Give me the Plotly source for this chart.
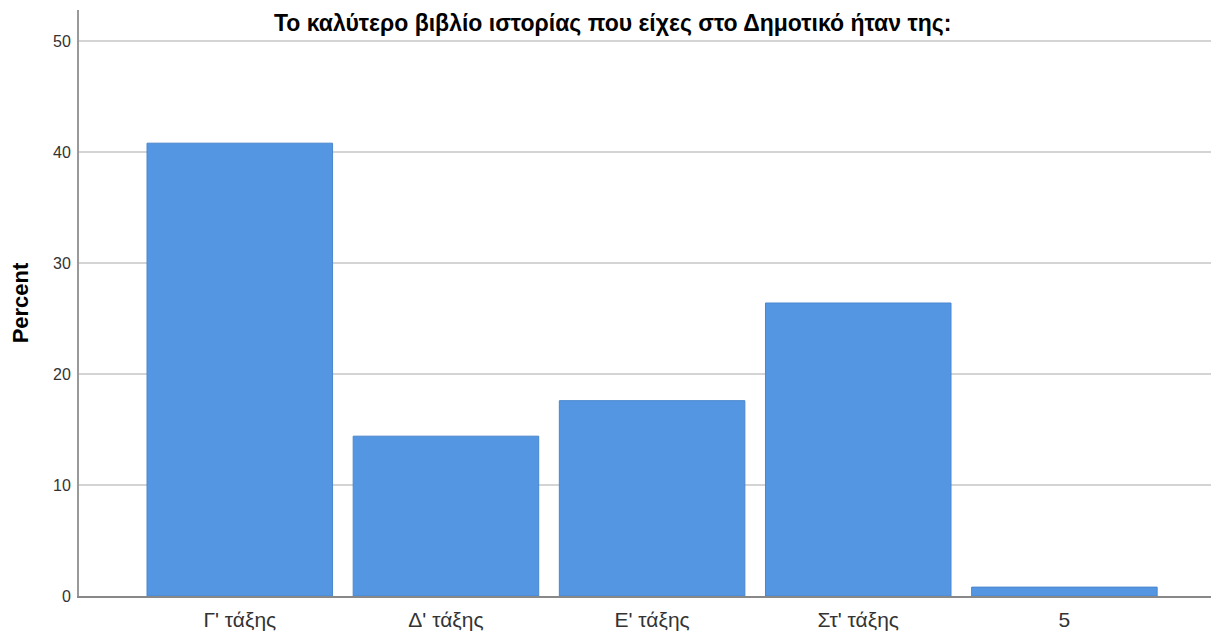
import plotly.graph_objects as go

categories = ["Γ' τάξης", "Δ' τάξης", "Ε' τάξης", "Στ' τάξης", "5"]
percent = [40.8, 14.4, 17.6, 26.4, 0.8]
y_ticks = [0, 10, 20, 30, 40, 50]
title_text = "Το καλύτερο βιβλίο ιστορίας που είχες στο Δημοτικό ήταν της:"

# page body has an 8px margin, so the figure is sized/offset to compensate
W, H = 1211, 626
L, R, T, B = 71, 0, 2, 38
plot_h = H - T - B

fig = go.Figure()
fig.add_trace(go.Bar(
    x=list(range(len(categories))), y=percent,
    marker=dict(color="#5596E3", line=dict(color="#4A86CF", width=1)),
    width=0.9,
))
fig.update_layout(
    width=W, height=H,
    margin=dict(l=L, r=R, t=T, b=B),
    plot_bgcolor="white", paper_bgcolor="white",
    showlegend=False,
    font=dict(family="Liberation Sans, Arial, sans-serif", color="#333333"),
    annotations=[dict(
        text="<b>" + title_text + "</b>", xref="paper", yref="paper",
        x=(604 - L) / (W - L - R), y=1 + 2 / plot_h, xanchor="center", yanchor="top",
        showarrow=False, font=dict(size=23, color="#000000"),
    )],
)
fig.update_xaxes(
    tickmode="array", tickvals=list(range(len(categories))), ticktext=categories,
    range=[-0.78, 4.75], showline=True, linecolor="#888888", linewidth=2,
    showgrid=False, ticks="", tickfont=dict(size=21, color="#333333"),
    ticklabelstandoff=4, zeroline=False,
)
fig.update_yaxes(
    tickmode="array", tickvals=y_ticks, range=[0, 52.8],
    showline=True, linecolor="#999999", linewidth=2,
    showgrid=True, gridcolor="#D4D4D4", gridwidth=1.5,
    ticks="", tickfont=dict(size=16, color="#333333"), ticklabelstandoff=3,
    title=dict(text="<b>Percent</b>", font=dict(size=22, color="#000000"), standoff=20),
    zeroline=False,
)
fig.write_html("out.html")
